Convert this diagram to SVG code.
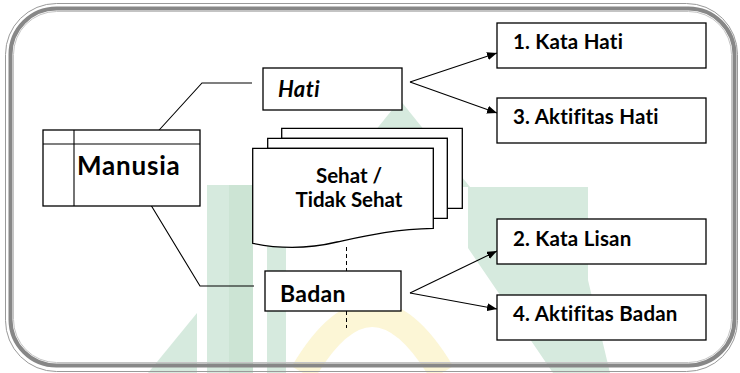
<svg xmlns="http://www.w3.org/2000/svg" width="740" height="373" viewBox="0 0 740 373">
  <defs>
    <marker id="arrow" viewBox="0 0 10 8" refX="10" refY="4" markerWidth="10" markerHeight="8" markerUnits="userSpaceOnUse" orient="auto">
      <path d="M0,0 L10,4 L0,8 Z" fill="#000"/>
    </marker>
    <style>
      .box { fill: #fff; stroke: #000; stroke-width: 1.3; }
      .line { fill: none; stroke: #000; stroke-width: 1.1; }
      .dash { fill: none; stroke: #000; stroke-width: 1; stroke-dasharray: 4 3; }
      .lbl { font-family: Lato, "Open Sans", "DejaVu Sans", sans-serif; font-weight: 700; fill: #000; }
      .emb-g { fill: #d6eade; }
      .emb-g2 { fill: #cce4d4; }
      .emb-y { fill: none; stroke: #fcf6d6; stroke-width: 26; }
    </style>
  </defs>

  <rect x="0" y="0" width="740" height="373" fill="#fff"/>

  <!-- faint emblem behind the chart -->
  <g id="emblem">
    <polygon class="emb-g" points="400,100 470,187 330,187"/>
    <polygon class="emb-g" points="468,187 588,187 588,280 610,373 553,373 468,248"/>
    <rect class="emb-g" x="207" y="185" width="22" height="188"/>
    <rect class="emb-g2" x="229" y="185" width="24" height="188"/>
    <polygon class="emb-g" points="197,313 197,373 148,373"/>
    <polygon class="emb-g" points="267,246 286,246 286,373 267,373"/>
    <path class="emb-y" d="M303,373 Q372,255 442,373"/>
  </g>

  <!-- rounded outer frame -->
  <g id="frame" fill="none">
    <rect x="5.5" y="3.5" width="732" height="368" rx="51" stroke="#9a9a9a" stroke-width="1"/>
    <rect x="10.5" y="8.5" width="724" height="357" rx="46" stroke="#878787" stroke-width="4"/>
    <rect x="13.5" y="11.5" width="718" height="351" rx="43" stroke="#c4c4c4" stroke-width="1"/>
  </g>

  <!-- connectors -->
  <g id="connectors">
    <polyline class="line" points="151,139 202,83 252,83"/>
    <polyline class="line" points="143,192 200,286 254,286"/>
    <line class="line" x1="410" y1="82" x2="497" y2="53" marker-end="url(#arrow)"/>
    <line class="line" x1="410" y1="82" x2="497" y2="113" marker-end="url(#arrow)"/>
    <line class="line" x1="410" y1="293" x2="497" y2="251" marker-end="url(#arrow)"/>
    <line class="line" x1="410" y1="293" x2="497" y2="309" marker-end="url(#arrow)"/>
    <line class="dash" x1="346.5" y1="247" x2="346.5" y2="271"/>
    <line class="dash" x1="346.5" y1="311" x2="346.5" y2="328"/>
  </g>

  <!-- Manusia -->
  <g id="manusia">
    <rect class="box" x="43" y="130" width="157" height="76"/>
    <line class="line" x1="43" y1="144" x2="200" y2="144"/>
    <line class="line" x1="74" y1="130" x2="74" y2="206"/>
    <text class="lbl" x="77" y="175" font-size="26" font-weight="600" letter-spacing="0.8">Manusia</text>
  </g>

  <!-- Hati -->
  <g id="hati">
    <rect class="box" x="263" y="68" width="139" height="42"/>
    <text class="lbl" x="278" y="97" font-size="22" font-style="italic" letter-spacing="0.4">Hati</text>
  </g>

  <!-- Badan -->
  <g id="badan">
    <rect class="box" x="265" y="271" width="136" height="40"/>
    <text class="lbl" x="280" y="302" font-size="23" letter-spacing="0.3">Badan</text>
  </g>

  <!-- Sehat / Tidak Sehat (stacked documents) -->
  <g id="sehat">
    <path class="box" d="M281.7,128.3 H462.3 V208.3 H447.3 V138.3 H281.7 Z"/>
    <path class="box" d="M267.7,138.3 H447.3 V218.3 H433.3 V148.3 H267.7 Z"/>
    <path class="box" d="M252.7,148.3 H433.3 V228.3 C395,229 365,236 337,242 C308,249 280,249 252.7,243.3 Z"/>
    <text class="lbl" x="349" y="183" font-size="20.5" text-anchor="middle">Sehat /</text>
    <text class="lbl" x="349" y="207" font-size="20.5" text-anchor="middle">Tidak Sehat</text>
  </g>

  <!-- outcome boxes -->
  <g id="kata-hati">
    <rect class="box" x="497" y="23" width="209" height="45"/>
    <text class="lbl" x="513" y="49" font-size="20.5" letter-spacing="0.2">1. Kata Hati</text>
  </g>
  <g id="aktifitas-hati">
    <rect class="box" x="497" y="98" width="209" height="45"/>
    <text class="lbl" x="513" y="124" font-size="20.5" letter-spacing="0.2">3. Aktifitas Hati</text>
  </g>
  <g id="kata-lisan">
    <rect class="box" x="497" y="219" width="209" height="45"/>
    <text class="lbl" x="513" y="246" font-size="20.5" letter-spacing="0.2">2. Kata Lisan</text>
  </g>
  <g id="aktifitas-badan">
    <rect class="box" x="497" y="295" width="209" height="45"/>
    <text class="lbl" x="513" y="321" font-size="20.5" letter-spacing="0.2">4. Aktifitas Badan</text>
  </g>
</svg>
